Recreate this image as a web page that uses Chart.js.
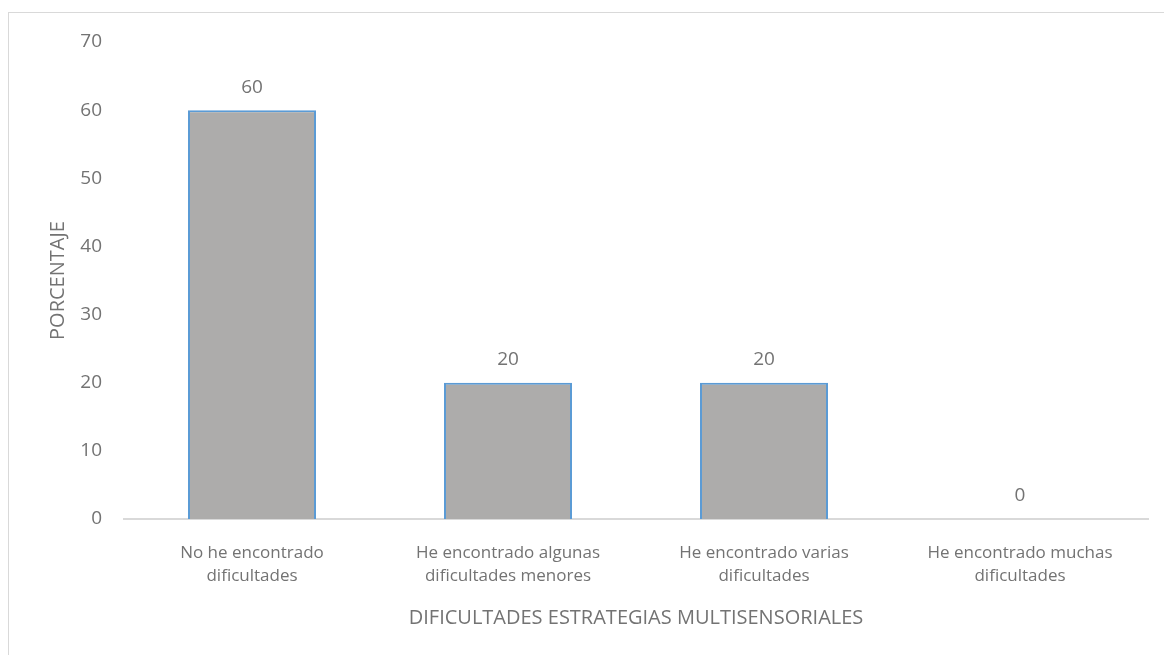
<!DOCTYPE html>
<html>
<head>
<meta charset="utf-8">
<script src="https://cdn.jsdelivr.net/npm/chart.js@4"></script>
<style>
    html, body { margin: 0; padding: 0; background: #ffffff; overflow: hidden; }
    #frame {
        position: absolute; left: 8px; top: 12px; width: 1200px; height: 700px;
        border: 1px solid #d9d9d9; box-sizing: border-box;
    }
    #wrap { position: absolute; left: 0; top: 0; width: 1164px; height: 655px; }
</style>
</head>
<body>
<div id="frame"></div>
<div id="wrap"><canvas id="chart" width="1164" height="655"></canvas></div>
<script>
// Chart data
const categories = [
    ['No he encontrado', 'dificultades'],
    ['He encontrado algunas', 'dificultades menores'],
    ['He encontrado varias', 'dificultades'],
    ['He encontrado muchas', 'dificultades']
];
const percentages = [60, 20, 20, 0];
const yTicks = [0, 10, 20, 30, 40, 50, 60, 70];

const textColor = '#737373';
const fontFamily = '"Open Sans", sans-serif';

// Value labels above each bar
const barLabels = {
    id: 'barLabels',
    afterDatasetsDraw(chart) {
        const ctx = chart.ctx;
        const meta = chart.getDatasetMeta(0);
        ctx.save();
        ctx.fillStyle = textColor;
        ctx.font = '19px ' + fontFamily;
        ctx.textAlign = 'center';
        ctx.textBaseline = 'middle';
        meta.data.forEach((bar, i) => {
            ctx.fillText(String(percentages[i]), bar.x, bar.y - 23);
        });
        ctx.restore();
    }
};

new Chart(document.getElementById('chart'), {
    type: 'bar',
    data: {
        labels: categories,
        datasets: [{
            data: percentages,
            backgroundColor: '#adacab',
            borderColor: '#5b9bd5',
            borderWidth: 2,
            categoryPercentage: 1,
            barPercentage: 0.5
        }]
    },
    options: {
        responsive: false,
        animation: false,
        layout: { padding: { top: 42, right: 16, left: 0, bottom: 0 } },
        plugins: {
            legend: { display: false },
            tooltip: { enabled: false }
        },
        scales: {
            x: {
                grid: { display: false },
                border: { display: true, color: '#d9d9d9', width: 2 },
                ticks: {
                    color: textColor,
                    font: { family: fontFamily, size: 17, lineHeight: 1.35 },
                    maxRotation: 0,
                    padding: 15
                },
                title: {
                    display: true,
                    text: 'DIFICULTADES ESTRATEGIAS MULTISENSORIALES',
                    color: textColor,
                    font: { family: fontFamily, size: 20 },
                    padding: { top: 4, bottom: 25 }
                },
                afterFit(scale) { scale.height = 136; }
            },
            y: {
                min: 0,
                max: 70,
                afterBuildTicks(scale) {
                    scale.ticks = yTicks.map(v => ({ value: v }));
                },
                grid: { display: false },
                border: { display: false },
                ticks: {
                    color: textColor,
                    font: { family: fontFamily, size: 19 },
                    padding: 14
                },
                title: {
                    display: true,
                    text: 'PORCENTAJE',
                    color: textColor,
                    font: { family: fontFamily, size: 20 },
                    padding: { top: 46, bottom: 0 }
                },
                afterFit(scale) { scale.width = 124; }
            }
        }
    },
    plugins: [barLabels]
});
</script>
</body>
</html>
